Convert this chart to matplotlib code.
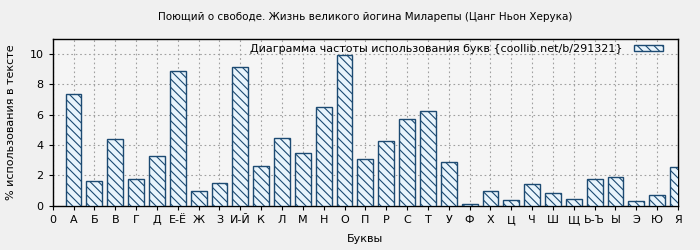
import matplotlib
matplotlib.use("Agg")
from matplotlib import pyplot as plt

# Буквы и частота их использования (%)
letters = ['А', 'Б', 'В', 'Г', 'Д', 'Е-Ё', 'Ж', 'З', 'И-Й', 'К', 'Л', 'М', 'Н', 'О', 'П',
           'Р', 'С', 'Т', 'У', 'Ф', 'Х', 'Ц', 'Ч', 'Ш', 'Щ', 'Ь-Ъ', 'Ы', 'Э', 'Ю', 'Я']
percent = [7.36, 1.61, 4.41, 1.74, 3.26, 8.88, 0.95, 1.48, 9.14, 2.62, 4.45, 3.46, 6.50, 9.96, 3.06,
           4.25, 5.70, 6.26, 2.86, 0.07, 0.95, 0.35, 1.41, 0.81, 0.42, 1.74, 1.89, 0.29, 0.68, 2.56]
tick_labels = ['0'] + letters

title = "Поющий о свободе. Жизнь великого йогина Миларепы (Цанг Ньон Херука)"
legend_label = "Диаграмма частоты использования букв {coollib.net/b/291321}"

plt.rcParams['font.family'] = ['DejaVu Sans']
plt.rcParams['hatch.linewidth'] = 0.8
plt.rcParams['hatch.color'] = '#1c4a72'

fig = plt.figure(figsize=(7, 2.5), dpi=100, facecolor='#f0f0f0')
ax = fig.add_axes([0.0753, 0.178, 0.8933, 0.666])
ax.set_facecolor('#f5f5f5')

positions = list(range(1, len(letters) + 1))
ax.bar(positions, percent, width=0.76, color='#e8f4fc', edgecolor='#1c4a72',
       linewidth=1.0, hatch='\\' * 4, label=legend_label, zorder=3)

ax.set_xlim(0, 30)
ax.set_ylim(0, 11)
ax.set_xticks(range(0, 31))
ax.set_xticklabels(tick_labels, fontsize=8)
ax.set_yticks(range(0, 11, 2))
ax.tick_params(axis='y', labelsize=8, length=3, direction='out')
ax.tick_params(axis='x', length=3, direction='out', pad=4)

ax.grid(True, color='#a0a0a0', linestyle=(0, (1.5, 2.5)), linewidth=0.8, zorder=0)
for s in ax.spines.values():
    s.set_color('black')
    s.set_linewidth(1.0)

ax.set_title(title, fontsize=7.5, pad=14)
ax.set_xlabel("Буквы", fontsize=8, labelpad=6)
ax.set_ylabel("% использования в тексте", fontsize=8, labelpad=10)

ax.legend(loc='upper right', bbox_to_anchor=(0.986, 1.012), frameon=False, fontsize=8,
          markerfirst=False, handlelength=2.6, handleheight=0.5, borderaxespad=0.3,
          borderpad=0.3, handletextpad=1.0)

fig.savefig("out.png", dpi=100, facecolor=fig.get_facecolor())
